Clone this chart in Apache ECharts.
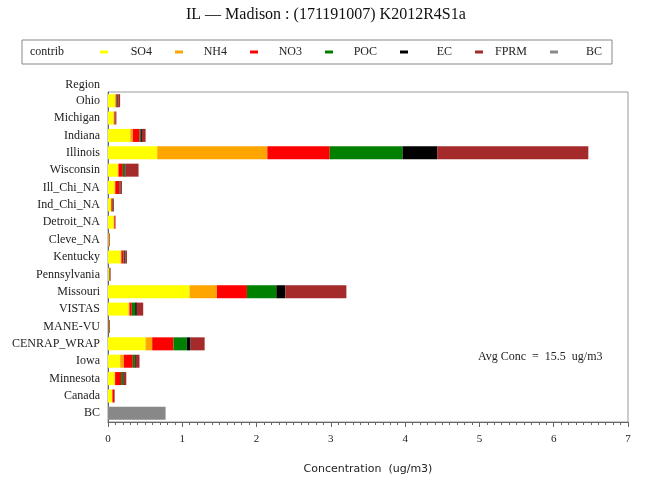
<!DOCTYPE html>
<html>
<head>
<meta charset="utf-8">
<script src="https://cdn.jsdelivr.net/npm/echarts@6/dist/echarts.min.js"></script>
<style>
  html, body { margin: 0; padding: 0; background: #fff; }
  #chart { width: 670px; height: 487px; }
</style>
</head>
<body>
<div id="chart"></div>
<script>
// Source regions, listed top to bottom
const regions = ['Ohio', 'Michigan', 'Indiana', 'Illinois', 'Wisconsin', 'Ill_Chi_NA', 'Ind_Chi_NA',
  'Detroit_NA', 'Cleve_NA', 'Kentucky', 'Pennsylvania', 'Missouri', 'VISTAS', 'MANE-VU',
  'CENRAP_WRAP', 'Iowa', 'Minnesota', 'Canada', 'BC'];

// Species contributions (ug/m3) per region
const so4  = [0.097, 0.075, 0.300, 0.663, 0.132, 0.088, 0.040, 0.075, 0.008, 0.170, 0.012, 1.098, 0.276, 0.005, 0.505, 0.164, 0.088, 0.055, 0];
const nh4  = [0.008, 0.010, 0.035, 1.482, 0.010, 0.010, 0.005, 0.010, 0.005, 0.010, 0.004, 0.368, 0.013, 0.002, 0.090, 0.049, 0.008, 0.005, 0];
const no3  = [0.013, 0.015, 0.090, 0.840, 0.058, 0.055, 0.015, 0.012, 0.006, 0.030, 0.004, 0.404, 0.031, 0.003, 0.287, 0.121, 0.080, 0.025, 0];
const poc  = [0.010, 0.005, 0.013, 0.980, 0.023, 0.005, 0.003, 0.002, 0.002, 0.010, 0.005, 0.396, 0.046, 0.004, 0.180, 0.027, 0.025, 0.002, 0];
const ec   = [0.010, 0.003, 0.018, 0.466, 0.013, 0.010, 0.005, 0.001, 0.001, 0.015, 0.002, 0.121, 0.022, 0.001, 0.050, 0.013, 0.010, 0.001, 0];
const fprm = [0.025, 0.005, 0.050, 2.035, 0.175, 0.020, 0.012, 0.002, 0.004, 0.020, 0.008, 0.822, 0.086, 0.010, 0.189, 0.050, 0.035, 0.003, 0];
const bc   = [0, 0, 0, 0, 0, 0, 0, 0, 0, 0, 0, 0, 0, 0, 0, 0, 0, 0, 0.775];

const speciesNames = ['SO4', 'NH4', 'NO3', 'POC', 'EC', 'FPRM', 'BC'];
const speciesData = [so4, nh4, no3, poc, ec, fprm, bc];
const speciesColors = ['#FFFF00', '#FFA500', '#FF0000', '#008000', '#000000', '#A52A2A', '#888888'];

const xTicks = [0, 1, 2, 3, 4, 5, 6, 7];
const avgConc = 15.5;
const titleText = 'IL \u2014 Madison : (171191007) K2012R4S1a';

const FONT = '"Liberation Serif", "DejaVu Serif", serif';
const SANS = '"DejaVu Sans", sans-serif';

// Legend entries sit in equal slots: each label ends a fixed distance after its swatch
const measureCtx = document.createElement('canvas').getContext('2d');
measureCtx.font = '12px ' + FONT;
const SWATCH = 8, TEXT_SPAN = 39, ITEM_GAP = 23;
const legendData = speciesNames.map((name) => {
  const w = measureCtx.measureText(name).width;
  return { name: name, textStyle: { padding: [0, 0, 0, Math.max(0, TEXT_SPAN - w)] } };
});

const chart = echarts.init(document.getElementById('chart'));

const series = speciesNames.map((name, i) => ({
  name: name,
  type: 'bar',
  stack: 'total',
  data: speciesData[i],
  barWidth: 13,
  itemStyle: { color: speciesColors[i] },
  emphasis: { disabled: true }
}));

chart.setOption({
  animation: false,
  backgroundColor: '#fff',
  textStyle: { fontFamily: FONT },
  title: {
    text: titleText,
    left: 181,
    top: 2,
    textStyle: { fontFamily: FONT, fontSize: 16, fontWeight: 'normal', color: '#111' }
  },
  legend: {
    left: 22,
    top: 40,
    padding: [6, 10, 6, 78],
    borderColor: '#888',
    borderWidth: 1,
    itemGap: ITEM_GAP,
    itemWidth: SWATCH,
    itemHeight: 3,
    icon: 'rect',
    textStyle: { fontFamily: FONT, fontSize: 12, color: '#222' },
    data: legendData
  },
  graphic: [
    {
      type: 'text', left: 30, top: 46,
      style: { text: 'contrib', font: '12px ' + FONT, fill: '#222' }
    },
    {
      type: 'text', left: 478, top: 351,
      style: { text: 'Avg Conc  =  ' + avgConc + '  ug/m3', font: '12px ' + FONT, fill: '#222' }
    }
  ],
  grid: {
    left: 108, right: 42, top: 92, bottom: 65,
    show: true, borderColor: '#999', borderWidth: 1
  },
  xAxis: {
    type: 'value',
    min: xTicks[0],
    max: xTicks[xTicks.length - 1],
    interval: 1,
    name: 'Concentration  (ug/m3)',
    nameLocation: 'middle',
    nameGap: 42,
    nameTextStyle: { fontFamily: SANS, fontSize: 11, color: '#222' },
    axisLine: { show: true, lineStyle: { color: '#666' } },
    axisTick: { show: true, length: 5, lineStyle: { color: '#666' } },
    minorTick: { show: true, splitNumber: 10, length: 3, lineStyle: { color: '#666' } },
    splitLine: { show: false },
    axisLabel: { fontFamily: FONT, fontSize: 11, color: '#222', margin: 12 }
  },
  yAxis: {
    type: 'category',
    inverse: true,
    data: regions,
    name: 'Region',
    nameLocation: 'start',
    nameGap: 1,
    nameTextStyle: { fontFamily: FONT, fontSize: 12, color: '#222', align: 'right', padding: [0, 8, 0, 0] },
    axisLine: { show: true, lineStyle: { color: '#666' } },
    axisTick: { show: false },
    axisLabel: { fontFamily: FONT, fontSize: 12, color: '#222', margin: 8 }
  },
  series: series
});
</script>
</body>
</html>
